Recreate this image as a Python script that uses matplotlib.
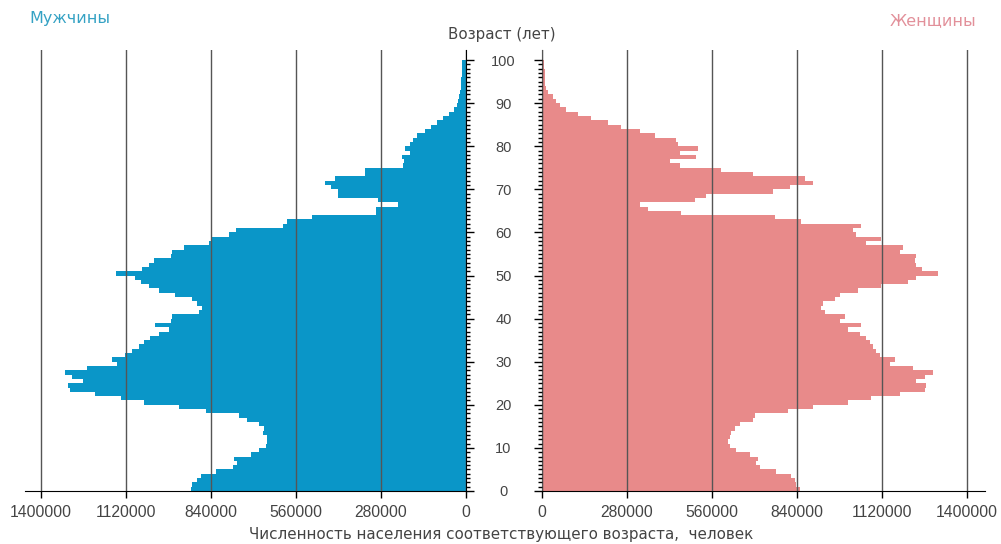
import numpy as np
from matplotlib import pyplot as plt
from matplotlib.ticker import FixedLocator

# age 0 .. 99, persons
ages = np.arange(0, 100)

men = [907000, 902000, 885000, 874000, 824000, 769000, 753000, 764000, 709000, 681000,
       659000, 654000, 654000, 670000, 665000, 681000, 720000, 747000, 857000, 946000,
       1062000, 1138000, 1221000, 1304000, 1310000, 1260000, 1298000, 1320000, 1249000, 1150000,
       1166000, 1122000, 1100000, 1078000, 1062000, 1040000, 1012000, 979000, 1023000, 973000,
       968000, 880000, 868000, 885000, 902000, 957000, 1012000, 1045000, 1072000, 1089000,
       1153000, 1067000, 1045000, 1028000, 973000, 968000, 929000, 847000, 841000, 780000,
       758000, 604000, 588000, 507000, 295000, 295000, 224000, 290000, 422000, 422000,
       444000, 463000, 433000, 334000, 334000, 207000, 205000, 210000, 185000, 200000,
       185000, 175000, 160000, 135000, 115000, 95000, 75000, 55000, 40000, 30000,
       25000, 22000, 19000, 17000, 16000, 15000, 14000, 13000, 12000, 12000]

women = [849000, 838000, 832000, 821000, 772000, 717000, 706000, 711000, 684000, 640000,
         618000, 613000, 618000, 624000, 635000, 651000, 695000, 700000, 810000, 893000,
         1008000, 1085000, 1178000, 1260000, 1266000, 1233000, 1260000, 1288000, 1222000, 1145000,
         1162000, 1112000, 1101000, 1090000, 1079000, 1068000, 1046000, 1008000, 1052000, 980000,
         997000, 931000, 920000, 926000, 964000, 980000, 1041000, 1118000, 1206000, 1233000,
         1304000, 1250000, 1233000, 1228000, 1233000, 1178000, 1189000, 1068000, 1118000, 1035000,
         1024000, 1052000, 854000, 766000, 459000, 349000, 322000, 503000, 541000, 761000,
         816000, 893000, 865000, 695000, 591000, 453000, 420000, 508000, 453000, 514000,
         448000, 442000, 371000, 322000, 261000, 217000, 162000, 119000, 80000, 58000,
         47000, 36000, 20000, 12000, 11000, 10000, 9000, 9000, 8000, 8000]

xticks = [0, 280000, 560000, 840000, 1120000, 1400000]
age_ticks = list(range(0, 101, 10))

male_color = '#0a96c8'
female_color = '#e88a8a'
text_color = '#444444'

plt.rcParams['font.family'] = ['Liberation Sans', 'DejaVu Sans']

W, H = 1001, 544
fig = plt.figure(figsize=(W / 100, H / 100), dpi=100)

bottom = (H - 491) / H
height = 441 / H
ymax = 100 + 10 / 4.31

ax_m = fig.add_axes([25 / W, bottom, 441 / W, height])
ax_f = fig.add_axes([542 / W, bottom, 443 / W, height])

ax_m.barh(ages, men, height=1, align='edge', color=male_color, linewidth=0, zorder=1)
ax_f.barh(ages, women, height=1, align='edge', color=female_color, linewidth=0, zorder=1)

ax_m.set_xlim(1452700, 0)
ax_f.set_xlim(0, 1459000)

for ax in (ax_m, ax_f):
    ax.set_ylim(0, ymax)
    ax.set_xticks(xticks)
    ax.set_xticklabels([str(t) for t in xticks])
    ax.grid(axis='x', color='#555555', linewidth=1, zorder=2)
    ax.set_axisbelow(False)
    ax.spines['top'].set_visible(False)
    ax.spines['bottom'].set_color('black')
    ax.tick_params(axis='x', length=5, width=1, color='black',
                   labelsize=11.3, labelcolor=text_color, pad=5)
    ax.yaxis.set_major_locator(FixedLocator(age_ticks))
    ax.yaxis.set_minor_locator(FixedLocator(list(range(0, 101))))
    ax.patch.set_alpha(0)

ax_m.spines['left'].set_visible(False)
ax_m.yaxis.tick_right()
ax_m.tick_params(axis='y', which='major', length=6, width=1, direction='out',
                 pad=21, labelsize=10.5, labelcolor=text_color)
ax_m.tick_params(axis='y', which='minor', length=3, width=1, direction='out')
for lab in ax_m.get_yticklabels():
    lab.set_horizontalalignment('center')

ax_f.spines['right'].set_visible(False)
ax_f.tick_params(axis='y', which='major', length=6, width=1, direction='out',
                 labelleft=False)
ax_f.tick_params(axis='y', which='minor', length=3, width=1, direction='out')

label_font = ['DejaVu Sans']
fig.text(29 / W, 1 - 19 / H, 'Мужчины', color='#35a2c4', fontsize=11.5, va='center', ha='left',
         family=label_font)
fig.text(976 / W, 1 - 21 / H, 'Женщины', color='#e2909a', fontsize=11.5, va='center', ha='right',
         family=label_font)
fig.text(502 / W, 1 - 34 / H, 'Возраст (лет)', color=text_color, fontsize=10.8, va='center',
         ha='center', family=label_font)
fig.text(501 / W, 1 - 535 / H, 'Численность населения соответствующего возраста,  человек',
         color=text_color, fontsize=10.9, va='center', ha='center', family=label_font)

fig.savefig('out.png', dpi=100)
